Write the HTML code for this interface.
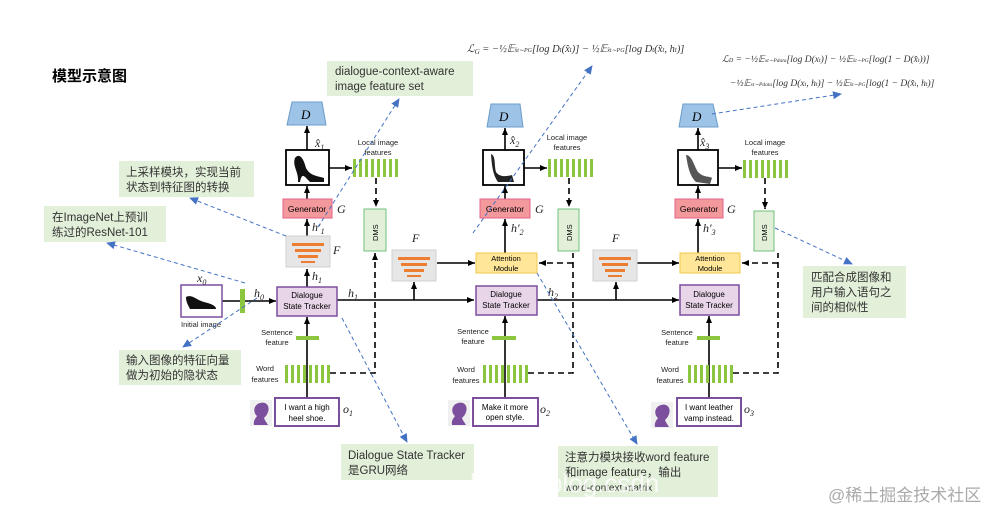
<!DOCTYPE html>
<html><head><meta charset="utf-8"><style>
body{margin:0;background:#fff}
svg{display:block}
.s{font-family:"Liberation Sans",sans-serif}
.m{font-family:"Liberation Serif",serif;font-style:italic}
.c{font-family:"Liberation Sans","Noto Sans CJK SC",sans-serif}
</style></head><body>
<svg width="995" height="511" viewBox="0 0 995 511" xmlns="http://www.w3.org/2000/svg">
<defs>
<marker id="a" markerWidth="8" markerHeight="8" refX="7" refY="4" orient="auto" markerUnits="userSpaceOnUse"><path d="M0,1 L7,4 L0,7z" fill="#000"/></marker>
<marker id="b" markerWidth="10" markerHeight="10" refX="8" refY="5" orient="auto" markerUnits="userSpaceOnUse"><path d="M0,1 L9,5 L0,9z" fill="#4472c4"/></marker>
<g id="bars"><rect x="0" y="0" width="3" height="18" fill="#8cc63f"/><rect x="6" y="0" width="3" height="18" fill="#8cc63f"/><rect x="12" y="0" width="3" height="18" fill="#8cc63f"/><rect x="18" y="0" width="3" height="18" fill="#8cc63f"/><rect x="24" y="0" width="3" height="18" fill="#8cc63f"/><rect x="30" y="0" width="3" height="18" fill="#8cc63f"/><rect x="36" y="0" width="3" height="18" fill="#8cc63f"/><rect x="42" y="0" width="3" height="18" fill="#8cc63f"/></g>
<g id="F"><rect x="0" y="0" width="44" height="31" fill="#e6e6e6" stroke="#d0d0d0"/><rect x="6" y="7" width="32" height="3" fill="#ed7d31"/><rect x="9" y="13" width="26" height="3" fill="#ed7d31"/><rect x="12" y="19" width="20" height="3" fill="#ed7d31"/><rect x="15" y="25" width="14" height="2" fill="#ed7d31"/></g>
<g id="sil"><rect x="0" y="0" width="22" height="26" fill="#f0f0f0"/><path d="M4,25 C3,20 6,18 7,16 C3,13 3,5 10,3 C17,1 20,7 18,12 C17,15 16,16 14,18 C15,21 17,23 18,25z" fill="#7b4f9d"/></g>
</defs>
<text x="52" y="81" class="c" font-size="15" font-weight="bold">模型示意图</text>

<text x="467" y="52" class="m" font-size="10.5" fill="#333">ℒ<tspan font-size="7" dy="2">G</tspan><tspan dy="-2"> = −½𝔼<tspan font-size="6">x̂t∼PG</tspan>[log D<tspan font-size="7">t</tspan>(x̂<tspan font-size="7">t</tspan>)] − ½𝔼<tspan font-size="6">x̂t∼PG</tspan>[log D<tspan font-size="7">t</tspan>(x̂<tspan font-size="7">t</tspan>, h<tspan font-size="7">t</tspan>)]</tspan></text>
<text x="722" y="62" class="m" font-size="9.5" fill="#333">ℒ<tspan font-size="6">D</tspan> = −½𝔼<tspan font-size="5.5">xt∼Pdata</tspan>[log D(x<tspan font-size="6">t</tspan>)] − ½𝔼<tspan font-size="5.5">x̂t∼PG</tspan>[log(1 − D(x̂<tspan font-size="6">t</tspan>))]</text>
<text x="730" y="86" class="m" font-size="9.5" fill="#333">−½𝔼<tspan font-size="5.5">xt∼Pdata</tspan>[log D(x<tspan font-size="6">t</tspan>, h<tspan font-size="6">t</tspan>)] − ½𝔼<tspan font-size="5.5">x̂t∼PG</tspan>[log(1 − D(x̂<tspan font-size="6">t</tspan>, h<tspan font-size="6">t</tspan>)]</text>

<g class="c" font-size="11.5" fill="#333">
<rect x="327" y="61" width="146" height="35" fill="#e2efd9"/><text x="335" y="75">dialogue-context-aware</text><text x="335" y="90">image feature set</text>
<rect x="119" y="161" width="135" height="36" fill="#e2efd9"/><text x="126" y="176">上采样模块，实现当前</text><text x="126" y="191">状态到特征图的转换</text>
<rect x="44" y="206" width="122" height="36" fill="#e2efd9"/><text x="52" y="221">在ImageNet上预训</text><text x="52" y="236">练过的ResNet-101</text>
<rect x="119" y="350" width="122" height="35" fill="#e2efd9"/><text x="126" y="364">输入图像的特征向量</text><text x="126" y="379">做为初始的隐状态</text>
<rect x="341" y="444" width="133" height="36" fill="#e2efd9"/><text x="348" y="459">Dialogue State Tracker</text><text x="348" y="474">是GRU网络</text>
<rect x="558" y="446" width="160" height="51" fill="#e2efd9"/><text x="565" y="461">注意力模块接收word feature</text><text x="565" y="476">和image feature，输出</text><text x="565" y="491" font-size="10">word-context matrix</text>
<rect x="803" y="266" width="103" height="52" fill="#e2efd9"/><text x="811" y="281">匹配合成图像和</text><text x="811" y="296">用户输入语句之</text><text x="811" y="311">间的相似性</text>
</g>
<text x="828" y="501" class="c" font-size="17" fill="#aaa">@稀土掘金技术社区</text>
<text x="470" y="492" class="s" font-size="26" fill="#fff" opacity="0.8">https://blog.csdn</text>

<g stroke="#000" stroke-width="1.6" fill="none">
<line x1="222" y1="301" x2="276" y2="301" marker-end="url(#a)"/>
<line x1="337" y1="300" x2="474" y2="300" marker-end="url(#a)"/>
<line x1="537" y1="300" x2="679" y2="300" marker-end="url(#a)"/>
<line x1="414" y1="300" x2="414" y2="282" marker-end="url(#a)"/>
<line x1="616" y1="300" x2="616" y2="282" marker-end="url(#a)"/>
<line x1="437" y1="263" x2="475" y2="263" marker-end="url(#a)"/>
<line x1="637" y1="263" x2="679" y2="263" marker-end="url(#a)"/>
<line x1="307" y1="398" x2="307" y2="317" marker-end="url(#a)"/>
<line x1="307" y1="287" x2="307" y2="269" marker-end="url(#a)"/>
<line x1="307" y1="236" x2="307" y2="219" marker-end="url(#a)"/>
<line x1="307" y1="199" x2="307" y2="186" marker-end="url(#a)"/>
<line x1="307" y1="150" x2="307" y2="126" marker-end="url(#a)"/>
<line x1="329" y1="168" x2="352" y2="168" marker-end="url(#a)"/>
<line x1="505" y1="398" x2="505" y2="316" marker-end="url(#a)"/>
<line x1="505" y1="253" x2="505" y2="219" marker-end="url(#a)"/>
<line x1="505" y1="199" x2="505" y2="186" marker-end="url(#a)"/>
<line x1="505" y1="150" x2="505" y2="128" marker-end="url(#a)"/>
<line x1="524" y1="168" x2="547" y2="168" marker-end="url(#a)"/>
<line x1="709" y1="398" x2="709" y2="316" marker-end="url(#a)"/>
<line x1="698" y1="253" x2="698" y2="219" marker-end="url(#a)"/>
<line x1="698" y1="199" x2="698" y2="186" marker-end="url(#a)"/>
<line x1="698" y1="150" x2="698" y2="128" marker-end="url(#a)"/>
<line x1="718" y1="168" x2="742" y2="168" marker-end="url(#a)"/>
</g>
<g stroke="#000" stroke-width="1.6" fill="none" stroke-dasharray="6,4">
<line x1="376" y1="178" x2="376" y2="207" marker-end="url(#a)"/>
<polyline points="330,373 375,373 375,253" marker-end="url(#a)"/>
<line x1="569" y1="178" x2="569" y2="207" marker-end="url(#a)"/>
<polyline points="528,373 573,373 573,253"/>
<line x1="573" y1="263" x2="539" y2="263" marker-end="url(#a)"/>
<line x1="765" y1="178" x2="765" y2="209" marker-end="url(#a)"/>
<polyline points="733,373 778,373 778,253"/>
<line x1="778" y1="263" x2="742" y2="263" marker-end="url(#a)"/>
</g>

<g fill="#9dc3e6" stroke="#6a9ccc">
<polygon points="292,102 322,102 326,125 287,125"/>
<polygon points="491,104 520,104 523,127 487,127"/>
<polygon points="683,104 713,104 718,127 679,127"/>
</g>
<g class="m" font-size="13"><text x="301" y="119">D</text><text x="499" y="121">D</text><text x="692" y="121">D</text></g>

<g fill="#fff" stroke="#000" stroke-width="1.8">
<rect x="286" y="150" width="43" height="35"/><rect x="483" y="150" width="41" height="35"/><rect x="678" y="150" width="40" height="35"/>
<rect x="181" y="285" width="41" height="32" stroke="#7b4f9d" stroke-width="1.5"/>
</g>
<path d="M295,158 C300,152 304,160 306,168 C310,176 318,176 324,178 L324,182 L310,182 C304,176 302,172 300,182 L298,182 C299,172 292,166 295,158z" fill="#111"/>
<path d="M491,154 C496,156 494,165 496,172 C500,178 508,176 512,175 L514,182 L498,182 C494,176 492,170 491,154z" fill="#222"/>
<path d="M686,155 C692,155 694,166 698,172 C704,178 710,176 712,178 L710,184 L696,182 C690,176 688,168 686,155z" fill="#555"/>
<path d="M186,297 C192,294 196,300 204,302 C212,304 216,306 216,309 L190,309 C188,305 186,302 186,297z" fill="#111"/>

<use href="#bars" x="353" y="159"/><use href="#bars" x="548" y="159"/><use href="#bars" x="743" y="160"/>
<use href="#bars" x="285" y="365"/><use href="#bars" x="483" y="365"/><use href="#bars" x="688" y="365"/>
<g fill="#8cc63f"><rect x="296" y="336" width="23" height="4"/><rect x="492" y="336" width="24" height="4"/><rect x="697" y="336" width="23" height="4"/><rect x="240" y="289" width="5" height="24"/></g>

<g fill="#f4999b" stroke="#e5608a"><rect x="283" y="199" width="49" height="19"/><rect x="480" y="199" width="50" height="19"/><rect x="675" y="199" width="48" height="19"/></g>
<g class="s" font-size="8.5" text-anchor="middle"><text x="307" y="212">Generator</text><text x="505" y="212">Generator</text><text x="699" y="212">Generator</text></g>
<use href="#F" x="286" y="236"/><use href="#F" x="392" y="250"/><use href="#F" x="593" y="250"/>
<g fill="#e2efd9" stroke="#70c27a"><rect x="364" y="209" width="22" height="42"/><rect x="558" y="209" width="21" height="42"/><rect x="754" y="211" width="20" height="40"/></g>
<g class="s" font-size="7.5"><text transform="translate(378,241) rotate(-90)">DMS</text><text transform="translate(572,241) rotate(-90)">DMS</text><text transform="translate(767,241) rotate(-90)">DMS</text></g>
<g fill="#ffe699" stroke="#f2c94c"><rect x="476" y="253" width="61" height="20"/><rect x="680" y="253" width="60" height="20"/></g>
<g class="s" font-size="7.5" text-anchor="middle"><text x="506" y="261">Attention</text><text x="506" y="271">Module</text><text x="710" y="261">Attention</text><text x="710" y="271">Module</text></g>
<g fill="#e8d5e8" stroke="#7b4f9d" stroke-width="1.5"><rect x="277" y="287" width="60" height="29"/><rect x="476" y="286" width="61" height="29"/><rect x="680" y="285" width="59" height="30"/></g>
<g class="s" font-size="8" text-anchor="middle"><text x="307" y="298">Dialogue</text><text x="307" y="309">State Tracker</text><text x="506" y="297">Dialogue</text><text x="506" y="308">State Tracker</text><text x="709" y="297">Dialogue</text><text x="709" y="308">State Tracker</text></g>
<g fill="#fff" stroke="#7b4f9d" stroke-width="2"><rect x="275" y="398" width="64" height="28"/><rect x="473" y="398" width="65" height="28"/><rect x="677" y="398" width="64" height="28"/></g>
<g class="s" font-size="8" text-anchor="middle"><text x="307" y="410">I want a high</text><text x="307" y="421">heel shoe.</text><text x="505" y="410">Make it more</text><text x="505" y="420">open style.</text><text x="709" y="410">I want leather</text><text x="709" y="421">vamp instead.</text></g>
<use href="#sil" x="250" y="400"/><use href="#sil" x="448" y="400"/><use href="#sil" x="651" y="402"/>

<g class="s" font-size="7.5" text-anchor="middle" fill="#222">
<text x="378" y="145">Local image</text><text x="378" y="155">features</text>
<text x="567" y="140">Local image</text><text x="567" y="150">features</text>
<text x="765" y="145">Local image</text><text x="765" y="155">features</text>
<text x="201" y="327">Initial image</text>
<text x="277" y="335">Sentence</text><text x="277" y="345">feature</text>
<text x="473" y="334">Sentence</text><text x="473" y="344">feature</text>
<text x="677" y="335">Sentence</text><text x="677" y="345">feature</text>
<text x="265" y="371">Word</text><text x="265" y="382">features</text>
<text x="466" y="372">Word</text><text x="466" y="383">features</text>
<text x="670" y="372">Word</text><text x="670" y="383">features</text>
</g>
<g class="m" font-size="12" fill="#222">
<text x="315" y="147">x̂<tspan font-size="8" dy="3">1</tspan></text>
<text x="510" y="144">x̂<tspan font-size="8" dy="3">2</tspan></text>
<text x="700" y="146">x̂<tspan font-size="8" dy="3">3</tspan></text>
<text x="337" y="213">G</text><text x="535" y="213">G</text><text x="727" y="213">G</text>
<text x="312" y="231">h′<tspan font-size="8" dy="3">1</tspan></text>
<text x="511" y="232">h′<tspan font-size="8" dy="3">2</tspan></text>
<text x="703" y="232">h′<tspan font-size="8" dy="3">3</tspan></text>
<text x="333" y="254">F</text><text x="412" y="242">F</text><text x="612" y="242">F</text>
<text x="312" y="280">h<tspan font-size="8" dy="3">1</tspan></text>
<text x="348" y="297">h<tspan font-size="8" dy="3">1</tspan></text>
<text x="254" y="297">h<tspan font-size="8" dy="3">0</tspan></text>
<text x="548" y="296">h<tspan font-size="8" dy="3">2</tspan></text>
<text x="197" y="282">x<tspan font-size="8" dy="3">0</tspan></text>
<text x="343" y="413">o<tspan font-size="8" dy="3">1</tspan></text>
<text x="540" y="413">o<tspan font-size="8" dy="3">2</tspan></text>
<text x="744" y="413">o<tspan font-size="8" dy="3">3</tspan></text>
</g>

<g stroke="#4472c4" stroke-width="1" stroke-dasharray="4,3" fill="none">
<line x1="318" y1="227" x2="399" y2="99" marker-end="url(#b)"/>
<line x1="473" y1="233" x2="592" y2="66" marker-end="url(#b)"/>
<line x1="712" y1="114" x2="841" y2="94" marker-end="url(#b)"/>
<line x1="775" y1="228" x2="852" y2="264" marker-end="url(#b)"/>
<line x1="286" y1="236" x2="190" y2="198" marker-end="url(#b)"/>
<line x1="245" y1="283" x2="107" y2="243" marker-end="url(#b)"/>
<line x1="257" y1="298" x2="183" y2="347" marker-end="url(#b)"/>
<line x1="342" y1="318" x2="407" y2="442" marker-end="url(#b)"/>
<line x1="537" y1="273" x2="637" y2="444" marker-end="url(#b)"/>
</g>
</svg>
</body></html>
